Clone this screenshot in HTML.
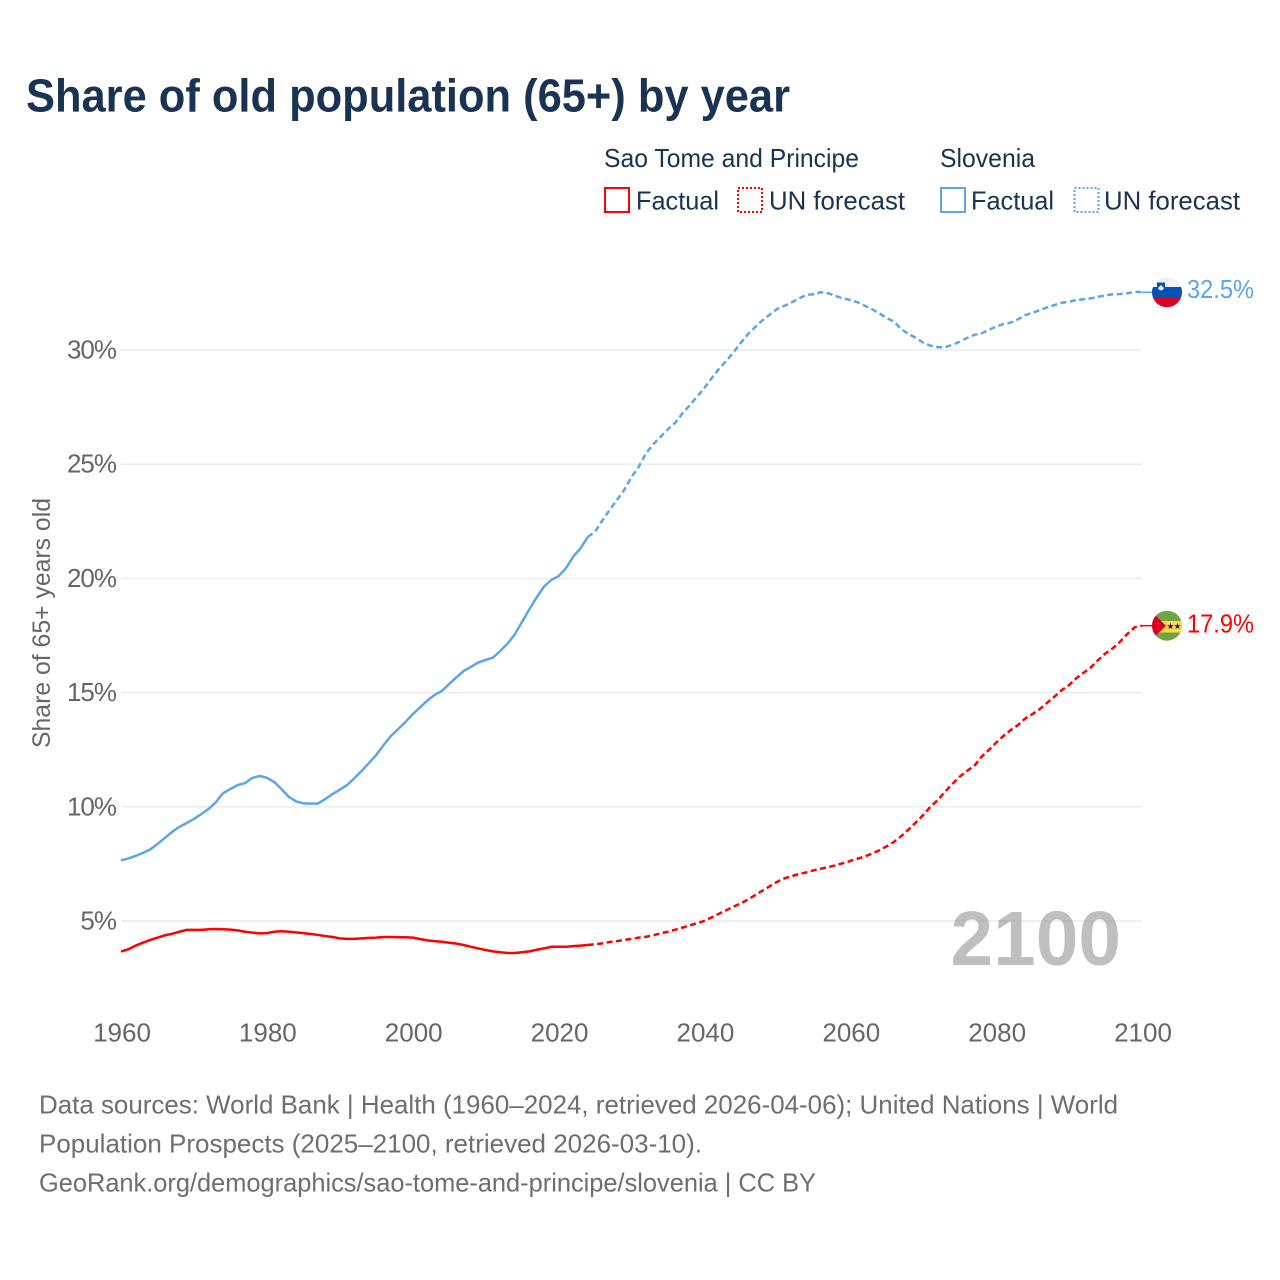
<!DOCTYPE html>
<html lang="en">
<head>
<meta charset="utf-8">
<title>Share of old population (65+) by year</title>
<style>
html,body{margin:0;padding:0;background:#fff;}
svg{display:block;}
text{font-family:"Liberation Sans",sans-serif;}
</style>
</head>
<body>
<svg id="chart" xmlns="http://www.w3.org/2000/svg" width="1280" height="1280" viewBox="0 0 1280 1280">
  <rect x="0" y="0" width="1280" height="1280" fill="#ffffff"/>
  <text x="26" y="111.500" font-size="46" font-weight="700" fill="#1a3352" textLength="764" lengthAdjust="spacingAndGlyphs">Share of old population (65+) by year</text>

  <g font-size="26" fill="#1a3352">
    <text x="604" y="167" textLength="255" lengthAdjust="spacingAndGlyphs">Sao Tome and Principe</text>
    <text x="940" y="167" textLength="95" lengthAdjust="spacingAndGlyphs">Slovenia</text>
    <rect x="605" y="188" width="24" height="24" fill="none" stroke="#ff0000" stroke-width="2"/>
    <text x="636" y="209.500" textLength="83" lengthAdjust="spacingAndGlyphs">Factual</text>
    <rect x="738" y="188" width="24" height="24" fill="none" stroke="#ff0000" stroke-width="2" stroke-dasharray="2 2"/>
    <text x="769" y="209.500" textLength="136" lengthAdjust="spacingAndGlyphs">UN forecast</text>
    <rect x="941" y="188" width="24" height="24" fill="none" stroke="#5ba5ec" stroke-width="2"/>
    <text x="971" y="209.500" textLength="83" lengthAdjust="spacingAndGlyphs">Factual</text>
    <rect x="1074.500" y="188" width="24" height="24" fill="none" stroke="#5ba5ec" stroke-width="2" stroke-dasharray="2 2"/>
    <text x="1104" y="209.500" textLength="136" lengthAdjust="spacingAndGlyphs">UN forecast</text>
  </g>

  <g id="grid"></g>
  <g id="yticks"></g>
  <g id="xticks"></g>
  <text transform="translate(50,748) rotate(-90)" font-size="25" fill="#666666" textLength="250" lengthAdjust="spacingAndGlyphs">Share of 65+ years old</text>

  <text x="950.500" y="965" font-size="77" font-weight="700" fill="#808080" fill-opacity="0.5" textLength="170.500" lengthAdjust="spacingAndGlyphs">2100</text>

  <g id="series"></g>

  <defs>
    <clipPath id="clip-si"><circle cx="1167" cy="292.3" r="15"/></clipPath>
    <clipPath id="clip-st"><circle cx="1167" cy="625.7" r="15"/></clipPath>
  </defs>
  <g clip-path="url(#clip-si)">
    <rect x="1152" y="277" width="30" height="10" fill="#f0f0f0"/>
    <rect x="1152" y="287" width="30" height="11" fill="#0052b4"/>
    <rect x="1152" y="298" width="30" height="10" fill="#d80027"/>
    <path d="M1157 282.500h8v6.500q-1 3-4 4q-3-1-4-4z" fill="#0052b4"/>
    <path d="M1158 288l1.500-1.500l1.500-1.500l1.500 1.500l1.500 1.500q-0.500 2-3 2.500q-2.500-0.500-3-2.500z" fill="#f0f0f0"/>
  </g>
  <g clip-path="url(#clip-st)">
    <rect x="1152" y="610" width="30" height="31" fill="#6da544"/>
    <rect x="1152" y="621" width="30" height="11.500" fill="#ffda44"/>
    <path d="M1150 610L1166 625.700L1150 641z" fill="#d80027"/>
    <path d="M1170.500 622.800l0.800 2.400h2.500l-2 1.500l0.800 2.400l-2.100-1.500l-2.100 1.500l0.800-2.400l-2-1.500h2.500z" fill="#1a1a1a"/>
    <path d="M1177.500 622.800l0.800 2.400h2.500l-2 1.500l0.800 2.400l-2.100-1.500l-2.100 1.500l0.800-2.400l-2-1.500h2.500z" fill="#1a1a1a"/>
  </g>
  <text id="label-si" x="1187" y="298" font-size="26" fill="#5ba5ec" textLength="67" lengthAdjust="spacingAndGlyphs">32.5%</text>
  <text id="label-st" x="1187" y="632.500" font-size="26" fill="#ff0000" textLength="67" lengthAdjust="spacingAndGlyphs">17.9%</text>

  <g font-size="26" fill="#6e6e6e">
    <text x="39" y="1113.500" textLength="1079" lengthAdjust="spacingAndGlyphs">Data sources: World Bank | Health (1960–2024, retrieved 2026-04-06); United Nations | World</text>
    <text x="39" y="1152.500" textLength="663" lengthAdjust="spacingAndGlyphs">Population Prospects (2025–2100, retrieved 2026-03-10).</text>
    <text x="39" y="1191.500" textLength="777" lengthAdjust="spacingAndGlyphs">GeoRank.org/demographics/sao-tome-and-principe/slovenia | CC BY</text>
  </g>
</svg>
<script>
const firstYear = 1960;
const lastFactualYear = 2024;
const xTickLabels = [1960, 1980, 2000, 2020, 2040, 2060, 2080, 2100];
const yTickLabels = [5, 10, 15, 20, 25, 30];
const sloveniaValues = [
7.65,7.74,7.85,7.98,8.13,8.37,8.63,8.9,9.12,9.29,
9.47,9.68,9.9,10.2,10.6,10.78,10.95,11.04,11.26,11.35,
11.27,11.09,10.78,10.44,10.24,10.15,10.14,10.14,10.34,10.56,
10.75,10.95,11.25,11.57,11.92,12.27,12.7,13.1,13.4,13.71,
14.05,14.35,14.65,14.9,15.07,15.38,15.67,15.95,16.13,16.32,
16.43,16.53,16.82,17.14,17.55,18.1,18.65,19.17,19.64,19.93,
20.1,20.44,20.95,21.31,21.81,22.05,22.53,23.0,23.43,23.87,
24.44,24.89,25.48,25.88,26.2,26.53,26.82,27.23,27.59,27.96,
28.34,28.77,29.17,29.53,29.9,30.32,30.7,31.02,31.31,31.56,
31.8,31.94,32.09,32.26,32.42,32.44,32.53,32.48,32.36,32.26,
32.19,32.09,31.94,31.78,31.6,31.4,31.24,30.91,30.7,30.53,
30.32,30.19,30.12,30.12,30.23,30.36,30.53,30.66,30.73,30.88,
31.02,31.14,31.2,31.34,31.53,31.63,31.75,31.87,31.97,32.07,
32.11,32.19,32.22,32.26,32.33,32.39,32.44,32.45,32.48,32.55,
32.53];
const saoTomeValues = [
3.66,3.76,3.92,4.05,4.17,4.27,4.37,4.44,4.53,4.61,
4.61,4.61,4.64,4.65,4.64,4.62,4.59,4.53,4.49,4.46,
4.47,4.53,4.55,4.53,4.5,4.47,4.43,4.39,4.34,4.3,
4.24,4.22,4.22,4.24,4.26,4.27,4.3,4.3,4.29,4.29,
4.27,4.21,4.15,4.12,4.09,4.05,4.01,3.95,3.87,3.8,
3.73,3.67,3.63,3.6,3.6,3.63,3.67,3.74,3.8,3.87,
3.87,3.87,3.9,3.92,3.95,3.98,4.02,4.08,4.12,4.17,
4.22,4.27,4.31,4.37,4.46,4.53,4.62,4.71,4.81,4.9,
5.01,5.16,5.32,5.47,5.63,5.77,5.95,6.14,6.34,6.53,
6.72,6.87,6.97,7.06,7.13,7.22,7.29,7.36,7.44,7.53,
7.63,7.73,7.83,7.95,8.1,8.27,8.47,8.72,9.01,9.32,
9.64,10.0,10.3,10.66,11.0,11.32,11.57,11.79,12.19,12.49,
12.81,13.1,13.36,13.58,13.87,14.06,14.28,14.56,14.82,15.11,
15.33,15.63,15.87,16.11,16.43,16.72,16.94,17.23,17.57,17.86,
17.93];

const NS = 'http://www.w3.org/2000/svg';
const xScale = function (year) { return 121 + (year - 1960) * (1142 - 121) / 140; };
const yScale = function (pct) { return 921 - (pct - 5) * (921 - 350) / 25; };

const gridGroup = document.getElementById('grid');
const yTickGroup = document.getElementById('yticks');
const xTickGroup = document.getElementById('xticks');
const seriesGroup = document.getElementById('series');

yTickLabels.forEach(function (tick) {
  const line = document.createElementNS(NS, 'line');
  
  
  line.setAttribute('x1', xScale(1960));
  line.setAttribute('x2', xScale(2100));
  line.setAttribute('y1', yScale(tick));
  line.setAttribute('y2', yScale(tick));
  line.setAttribute('stroke', '#ececec');
  line.setAttribute('stroke-width', '1.5');
  gridGroup.appendChild(line);

  const label = document.createElementNS(NS, 'text');
  
  
  label.setAttribute('x', 116);
  label.setAttribute('y', yScale(tick) + 8.5);
  label.setAttribute('text-anchor', 'end');
  label.setAttribute('font-size', '26');
  label.setAttribute('letter-spacing', '-1');
  label.setAttribute('fill', '#666666');
  label.textContent = tick + '%';
  yTickGroup.appendChild(label);
});

xTickLabels.forEach(function (tick) {
  const label = document.createElementNS(NS, 'text');
  
  
  label.setAttribute('x', xScale(tick) + 1);
  label.setAttribute('y', 1041.5);
  label.setAttribute('text-anchor', 'middle');
  label.setAttribute('font-size', '26');
  label.setAttribute('fill', '#666666');
  label.textContent = tick;
  xTickGroup.appendChild(label);
});

function pathFrom(values, startYear, endYear) {
  let d = '';
  for (let year = startYear; year <= endYear; year++) {
    const v = values[year - firstYear];
    d += (d ? 'L' : 'M') + xScale(year).toFixed(2) + ' ' + yScale(v).toFixed(2);
  }
  return d;
}

const endYear = firstYear + sloveniaValues.length - 1;

const siFactual = document.createElementNS(NS, 'path');


siFactual.setAttribute('d', pathFrom(sloveniaValues, firstYear, lastFactualYear));
siFactual.setAttribute('fill', 'none');
siFactual.setAttribute('stroke', '#5ba5ec');
siFactual.setAttribute('stroke-width', '2.5');
seriesGroup.appendChild(siFactual);

const siForecast = document.createElementNS(NS, 'path');


siForecast.setAttribute('d', pathFrom(sloveniaValues, lastFactualYear, endYear));
siForecast.setAttribute('fill', 'none');
siForecast.setAttribute('stroke', '#5ba5ec');
siForecast.setAttribute('stroke-width', '2.5');
siForecast.setAttribute('stroke-dasharray', '6 3.5');
seriesGroup.appendChild(siForecast);

const stFactual = document.createElementNS(NS, 'path');


stFactual.setAttribute('d', pathFrom(saoTomeValues, firstYear, lastFactualYear));
stFactual.setAttribute('fill', 'none');
stFactual.setAttribute('stroke', '#ff0000');
stFactual.setAttribute('stroke-width', '2.5');
seriesGroup.appendChild(stFactual);

const stForecast = document.createElementNS(NS, 'path');


stForecast.setAttribute('d', pathFrom(saoTomeValues, lastFactualYear, endYear));
stForecast.setAttribute('fill', 'none');
stForecast.setAttribute('stroke', '#ff0000');
stForecast.setAttribute('stroke-width', '2.5');
stForecast.setAttribute('stroke-dasharray', '6 3.5');
seriesGroup.appendChild(stForecast);

const siLeader = document.createElementNS(NS, 'line');


siLeader.setAttribute('x1', xScale(endYear));
siLeader.setAttribute('x2', xScale(endYear) + 11);
siLeader.setAttribute('y1', yScale(sloveniaValues[sloveniaValues.length - 1]));
siLeader.setAttribute('y2', yScale(sloveniaValues[sloveniaValues.length - 1]));
siLeader.setAttribute('stroke', '#5ba5ec');
siLeader.setAttribute('stroke-width', '1.5');
seriesGroup.appendChild(siLeader);

const stLeader = document.createElementNS(NS, 'line');


stLeader.setAttribute('x1', xScale(endYear));
stLeader.setAttribute('x2', xScale(endYear) + 11);
stLeader.setAttribute('y1', yScale(saoTomeValues[saoTomeValues.length - 1]));
stLeader.setAttribute('y2', yScale(saoTomeValues[saoTomeValues.length - 1]));
stLeader.setAttribute('stroke', '#ff0000');
stLeader.setAttribute('stroke-width', '1.5');
seriesGroup.appendChild(stLeader);
</script>
</body>
</html>
